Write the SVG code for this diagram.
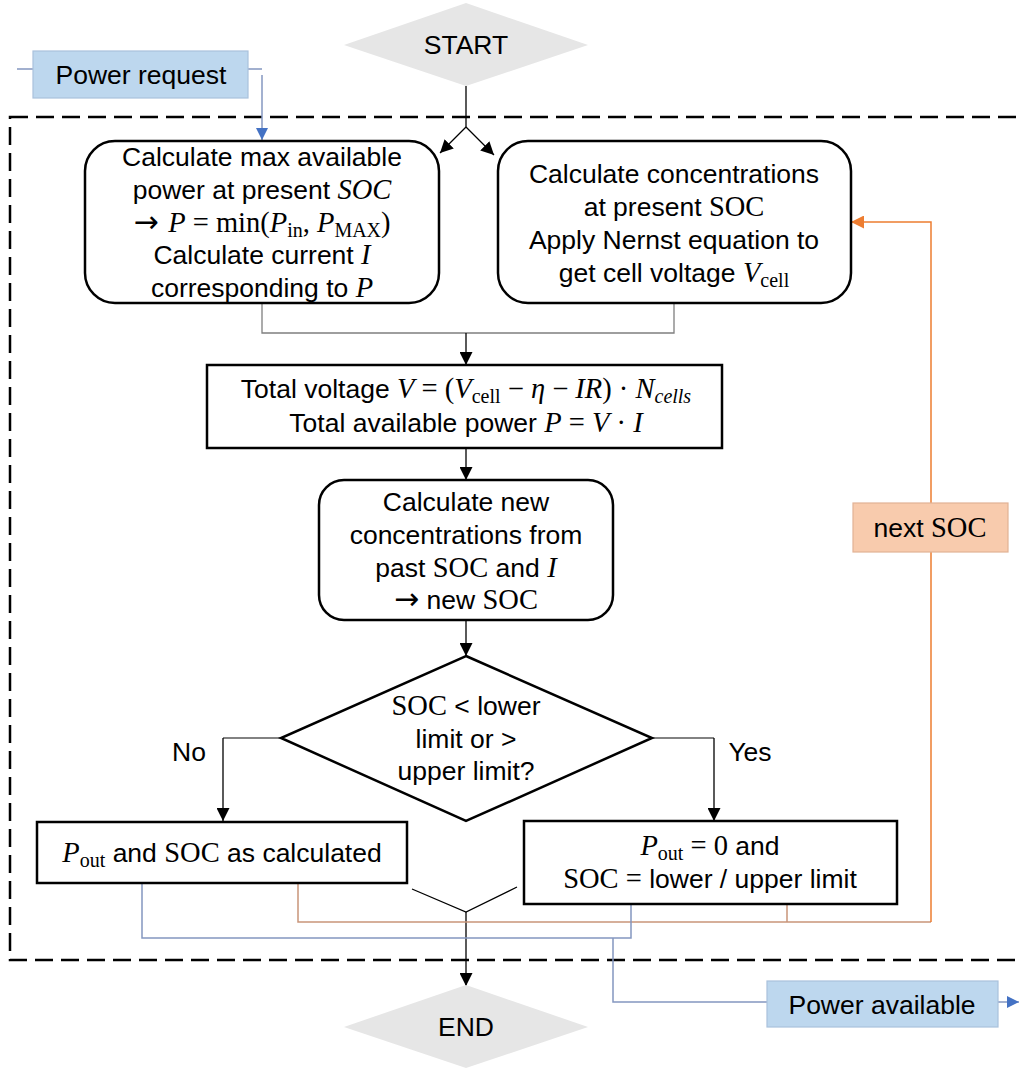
<svg xmlns="http://www.w3.org/2000/svg" width="1019" height="1068" viewBox="0 0 1019 1068">
<defs>
<marker id="ab2" viewBox="0 0 10 10" refX="10" refY="5" markerWidth="13" markerHeight="13" markerUnits="userSpaceOnUse" orient="auto"><path d="M0,0 L10,5 L0,10 z" fill="#000"/></marker>
<marker id="ao" viewBox="0 0 10 10" refX="10" refY="5" markerWidth="13" markerHeight="13" markerUnits="userSpaceOnUse" orient="auto"><path d="M0,0 L10,5 L0,10 z" fill="#ed7d31"/></marker>
<marker id="abl" viewBox="0 0 10 10" refX="10" refY="5" markerWidth="12" markerHeight="12" markerUnits="userSpaceOnUse" orient="auto"><path d="M0,0 L10,5 L0,10 z" fill="#4472c4"/></marker>
</defs>
<style>
text{font-family:"Liberation Sans",Arial,sans-serif;font-size:26.5px;fill:#000;text-anchor:middle}
.m{font-family:"Liberation Serif","DejaVu Serif",serif;font-size:28.5px}
.i{font-family:"Liberation Serif","DejaVu Serif",serif;font-style:italic;font-size:28.5px}
.ar{font-family:"DejaVu Sans",sans-serif;font-size:30px}
.s{font-size:20px}
.box{fill:#fff;stroke:#000;stroke-width:2.5}
.term{fill:#e6e6e6;stroke:none}
.io{fill:#bdd7ee;stroke:#a9c1dc;stroke-width:1.2}
.c{fill:none;stroke:#000;stroke-width:1.3}
.g{fill:none;stroke:#7f7f7f;stroke-width:1.3}
.bl{fill:none;stroke:#8497c0;stroke-width:1.5}
.or{fill:none;stroke:#ed7d31;stroke-width:1.5}
.tan{fill:none;stroke:#c9957a;stroke-width:1.5}
</style>
<rect x="10" y="117" width="1030" height="843" fill="none" stroke="#000" stroke-width="2.5" stroke-dasharray="18 8"/>
<g id="connectors">
<path class="c" d="M466,86 V127"/>
<path class="c" d="M466,127 L440,153" marker-end="url(#ab2)"/>
<path class="c" d="M466,127 L494,155" marker-end="url(#ab2)"/>
<path class="bl" d="M17,69 H33 M248,69 H262"/>
<path class="bl" d="M262,75 V140" marker-end="url(#abl)"/>
<path class="g" d="M262,303 V333 H674 V303"/>
<path class="c" d="M466,333 V365" marker-end="url(#ab2)"/>
<path class="c" d="M466,448 V480" marker-end="url(#ab2)"/>
<path class="c" d="M466,620 V656" marker-end="url(#ab2)"/>
<path class="g" d="M281,738 H223" style="stroke:#595959"/>
<path class="c" d="M223,738 V821" marker-end="url(#ab2)"/>
<path class="g" d="M652,738 H714" style="stroke:#595959"/>
<path class="c" d="M714,738 V821" marker-end="url(#ab2)"/>
<path class="c" d="M412,889 L466,912 L517,887"/>
<path class="c" d="M466,912 V986" marker-end="url(#ab2)"/>
<path class="tan" d="M298,883 V922 H931 M787,904 V922"/>
<path class="or" d="M931,922 V222 H851" marker-end="url(#ao)"/>
<path class="bl" d="M142,883 V938 H631 V904"/>
<path class="bl" d="M613,938 V1002 H767"/>
<path class="bl" d="M998,1002 H1019" marker-end="url(#abl)"/>
</g>
<g id="start">
<path class="term" d="M344,45 L466,3 L588,45 L466,86 z"/>
<text x="466" y="54">START</text>
</g>
<g id="power-request">
<rect class="io" x="33" y="51" width="215" height="47"/>
<text x="141" y="84">Power request</text>
</g>
<g id="calc-max-power">
<rect class="box" x="85" y="141" width="354" height="162" rx="30"/>
<text x="262" y="166">Calculate max available</text>
<text x="262" y="199">power at present <tspan class="i">SOC</tspan></text>
<text x="262" y="232"><tspan class="ar">→ </tspan><tspan class="i">P</tspan><tspan class="m"> = min(</tspan><tspan class="i">P</tspan><tspan class="m s" dy="5">in</tspan><tspan class="m" dy="-5">, </tspan><tspan class="i">P</tspan><tspan class="m s" dy="5">MAX</tspan><tspan class="m" dy="-5">)</tspan></text>
<text x="262" y="264">Calculate current <tspan class="i">I</tspan></text>
<text x="262" y="297">corresponding to <tspan class="i">P</tspan></text>
</g>
<g id="calc-concentrations">
<rect class="box" x="498" y="141" width="353" height="162" rx="30"/>
<text x="674" y="183">Calculate concentrations</text>
<text x="674" y="216">at present <tspan class="m">SOC</tspan></text>
<text x="674" y="249">Apply Nernst equation to</text>
<text x="674" y="282">get cell voltage <tspan class="i">V</tspan><tspan class="m s" dy="5">cell</tspan></text>
</g>
<g id="total-voltage">
<rect class="box" x="207" y="365" width="515" height="83"/>
<text x="466" y="398">Total voltage <tspan class="i">V</tspan><tspan class="m"> = (</tspan><tspan class="i">V</tspan><tspan class="m s" dy="5">cell</tspan><tspan class="m" dy="-5"> − </tspan><tspan class="i">η</tspan><tspan class="m"> − </tspan><tspan class="i">IR</tspan><tspan class="m">) · </tspan><tspan class="i">N</tspan><tspan class="i s" dy="5">cells</tspan></text>
<text x="466" y="432">Total available power <tspan class="i">P</tspan><tspan class="m"> = </tspan><tspan class="i">V</tspan><tspan class="m"> · </tspan><tspan class="i">I</tspan></text>
</g>
<g id="new-concentrations">
<rect class="box" x="319" y="480" width="294" height="140" rx="25"/>
<text x="466" y="511">Calculate new</text>
<text x="466" y="544">concentrations from</text>
<text x="466" y="577">past <tspan class="m">SOC</tspan> and <tspan class="i">I</tspan></text>
<text x="466" y="609"><tspan class="ar">→</tspan> new <tspan class="m">SOC</tspan></text>
</g>
<g id="decision">
<path class="box" d="M466,656 L652,738 L466,821 L281,738 z"/>
<text x="466" y="715"><tspan class="m">SOC</tspan> &lt; lower</text>
<text x="466" y="748">limit or &gt;</text>
<text x="466" y="780">upper limit?</text>
</g>
<g id="label-no"><text x="189" y="761">No</text></g>
<g id="label-yes"><text x="750" y="761">Yes</text></g>
<g id="as-calculated">
<rect class="box" x="37" y="822" width="370" height="61"/>
<text x="222" y="862"><tspan class="i">P</tspan><tspan class="m s" dy="5">out</tspan><tspan dy="-5"> and </tspan><tspan class="m">SOC</tspan> as calculated</text>
</g>
<g id="limit">
<rect class="box" x="524" y="821" width="373" height="83"/>
<text x="710" y="855"><tspan class="i">P</tspan><tspan class="m s" dy="5">out</tspan><tspan class="m" dy="-5"> = 0</tspan> and</text>
<text x="710" y="888"><tspan class="m">SOC =</tspan> lower / upper limit</text>
</g>
<g id="next-soc">
<rect x="853" y="503" width="155" height="49" fill="#f8cbad" stroke="#e2b295" stroke-width="1.2"/>
<text x="930" y="537">next <tspan class="m">SOC</tspan></text>
</g>
<g id="power-available">
<rect class="io" x="767" y="981" width="231" height="46"/>
<text x="882" y="1014">Power available</text>
</g>
<g id="end">
<path class="term" d="M344,1027 L466,985 L588,1027 L466,1068 z"/>
<text x="466" y="1036">END</text>
</g>
</svg>
